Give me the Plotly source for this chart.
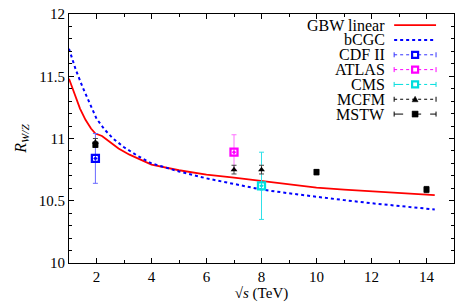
import plotly.graph_objects as go

# ---------------- data ----------------
gbw_x = [1.0, 1.2, 1.4, 1.6, 1.8, 1.96, 2.2, 2.5, 2.8, 3.2, 3.6, 4.0, 5.0, 6.0,
         7.0, 8.0, 9.0, 10.0, 11.0, 12.0, 13.0, 14.0, 14.3]
gbw_y = [11.48, 11.36, 11.24, 11.15, 11.08, 11.04, 11.02, 10.97, 10.92, 10.87,
         10.83, 10.79, 10.745, 10.71, 10.685, 10.66, 10.63, 10.605, 10.59,
         10.575, 10.562, 10.55, 10.545]

bcgc_x = [1.0, 1.25, 1.5, 1.75, 2.0, 2.3, 2.6, 3.0, 3.5, 4.0, 5.0, 6.0, 7.0,
          8.0, 9.0, 10.0, 11.0, 12.0, 13.0, 14.3]
bcgc_y = [11.72, 11.55, 11.41, 11.28, 11.16, 11.07, 11.0, 10.93, 10.86, 10.80,
          10.735, 10.68, 10.635, 10.59, 10.56, 10.53, 10.505, 10.48, 10.46, 10.43]

cdf_x, cdf_y, cdf_err = [1.96], [10.84], [0.2]
atlas_x, atlas_y, atlas_err = [7.0], [10.89], [0.14]
cms_x, cms_y, cms_err = [8.0], [10.62], [0.27]
mcfm_x, mcfm_y, mcfm_err = [1.96, 7.0, 8.0], [10.97, 10.75, 10.75], [0.03, 0.035, 0.035]
mstw_x, mstw_y, mstw_err = [1.96, 10.0, 14.0], [10.95, 10.73, 10.59], [0.022, 0.022, 0.025]

legend_labels = ["GBW linear", "bCGC", "CDF II", "ATLAS", "CMS", "MCFM", "MSTW"]

x_ticks = [2, 4, 6, 8, 10, 12, 14]
y_ticks = [10, 10.5, 11, 11.5, 12]
y_tick_text = ["10", "10.5", "11", "11.5", "12"]

FONT = "Liberation Serif"
FS = 15

fig = go.Figure()

fig.add_trace(go.Scatter(x=gbw_x, y=gbw_y, mode="lines",
                         line=dict(color="#ff0000", width=1.8), name="GBW linear"))
fig.add_trace(go.Scatter(x=bcgc_x, y=bcgc_y, mode="lines",
                         line=dict(color="#0000ff", width=2, dash="dot"), name="bCGC"))


def pts(x, y, err, color, ecolor, symbol, size, lw=1.5):
    return go.Scatter(
        x=x, y=y, mode="markers",
        marker=dict(symbol=symbol, size=size, color=color,
                    line=dict(color=color, width=lw)),
        error_y=dict(type="data", array=err, visible=True, color=ecolor,
                     thickness=1, width=2.5),
    )


fig.add_trace(pts(cdf_x, cdf_y, cdf_err, "#0000ff", "#6a6aff", "square-open-dot", 7, 2.3))
fig.add_trace(pts(atlas_x, atlas_y, atlas_err, "#ff00ff", "#ff70ff", "square-open-dot", 7, 2.3))
fig.add_trace(pts(cms_x, cms_y, cms_err, "#00e0e0", "#30e0e8", "square-open-dot", 7, 2.3))
fig.add_trace(pts(mcfm_x, mcfm_y, mcfm_err, "#000000", "#444444", "triangle-up", 6, 0))
fig.add_trace(pts(mstw_x, mstw_y, mstw_err, "#000000", "#222222", "square", 6, 0))

# ------------- custom gnuplot-style legend (text left, key right) -------------
L, R, T, B = 69, 455, 7, 264
W, H = R - L, B - T


def px(xp):
    return (xp - L) / W


def py(yp):
    return (B - yp) / H


styles = [
    dict(color="#ff0000", width=1.8, dash="solid", marker=None, caps=False),
    dict(color="#0000ff", width=2, dash="dot", marker=None, caps=False),
    dict(color="#3333ff", width=1, dash="dot", marker=("sq", "#0000ff"), caps=True),
    dict(color="#ff00ff", width=1, dash="dot", marker=("sq", "#ff00ff"), caps=True),
    dict(color="#00dddd", width=1, dash="dashdot", marker=("sq", "#00dddd"), caps=True),
    dict(color="#000000", width=1, dash="dot", marker=("tri", "#000000"), caps=True),
    dict(color="#000000", width=1, dash="dash", marker=("fsq", "#000000"), caps=True),
]

shapes = []
annotations = []
row0, step = 18.5, 15.3
for i, (lab, st) in enumerate(zip(legend_labels, styles)):
    yp = row0 + i * step
    annotations.append(dict(x=px(388), y=py(yp), xref="paper", yref="paper",
                            text=lab, showarrow=False, xanchor="right", yanchor="middle",
                            font=dict(family=FONT, size=FS + 1, color="black")))
    shapes.append(dict(type="line", xref="paper", yref="paper",
                       x0=px(395), x1=px(437), y0=py(yp), y1=py(yp),
                       line=dict(color=st["color"], width=st["width"], dash=st["dash"])))
    if st["caps"]:
        for xe in (395, 437):
            shapes.append(dict(type="line", xref="paper", yref="paper",
                               xsizemode="pixel", ysizemode="pixel",
                               xanchor=px(xe), yanchor=py(yp),
                               x0=0, x1=0, y0=-2.5, y1=2.5,
                               line=dict(color=st["color"], width=1)))
    if st["marker"]:
        kind, mc = st["marker"]
        if kind == "tri":
            shapes.append(dict(type="path", xref="paper", yref="paper",
                               xsizemode="pixel", ysizemode="pixel",
                               xanchor=px(416), yanchor=py(yp),
                               path="M -3 -2.5 L 3 -2.5 L 0 3 Z",
                               fillcolor=mc, line=dict(color=mc, width=0.5)))
        elif kind == "fsq":
            shapes.append(dict(type="rect", xref="paper", yref="paper",
                               xsizemode="pixel", ysizemode="pixel",
                               xanchor=px(416), yanchor=py(yp),
                               x0=-3, x1=3, y0=-3, y1=3,
                               fillcolor=mc, line=dict(color=mc, width=0.5)))
        else:
            shapes.append(dict(type="rect", xref="paper", yref="paper",
                               xsizemode="pixel", ysizemode="pixel",
                               xanchor=px(416), yanchor=py(yp),
                               x0=-3, x1=3, y0=-3, y1=3,
                               fillcolor="white", line=dict(color=mc, width=2.2)))

fig.update_layout(
    width=461, height=304,
    margin=dict(l=L, r=461 - R, t=T, b=304 - B),
    paper_bgcolor="white", plot_bgcolor="white",
    showlegend=False,
    font=dict(family=FONT, size=FS, color="black"),
    shapes=shapes, annotations=annotations,
)

fig.update_xaxes(
    range=[1, 15], tickvals=x_ticks, ticks="inside", ticklen=5, tickcolor="black",
    showline=True, linecolor="black", linewidth=1, mirror="allticks",
    showgrid=False, zeroline=False, ticklabeloverflow="allow",
    minor=dict(dtick=1, tick0=1, ticks="inside", ticklen=3, tickcolor="black", showgrid=False),
    title=dict(text="√<i>s</i> (TeV)", standoff=2, font=dict(family=FONT, size=FS)),
    tickfont=dict(family=FONT, size=FS),
)
fig.update_yaxes(
    range=[10, 12], tickvals=y_ticks, ticktext=y_tick_text, ticks="inside", ticklen=5,
    tickcolor="black", showline=True, linecolor="black", linewidth=1, mirror="allticks",
    showgrid=False, zeroline=False, ticklabeloverflow="allow",
    minor=dict(dtick=0.1, tick0=10, ticks="inside", ticklen=3, tickcolor="black", showgrid=False),
    title=dict(text="<i>R</i><sub><i>W/Z</i></sub>", standoff=8, font=dict(family=FONT, size=FS + 1)),
    tickfont=dict(family=FONT, size=FS),
)

fig.write_html(
    "out.html",
    config={"staticPlot": True, "displayModeBar": False},
    post_script="document.body.style.margin='0';document.body.style.overflow='hidden';",
)
